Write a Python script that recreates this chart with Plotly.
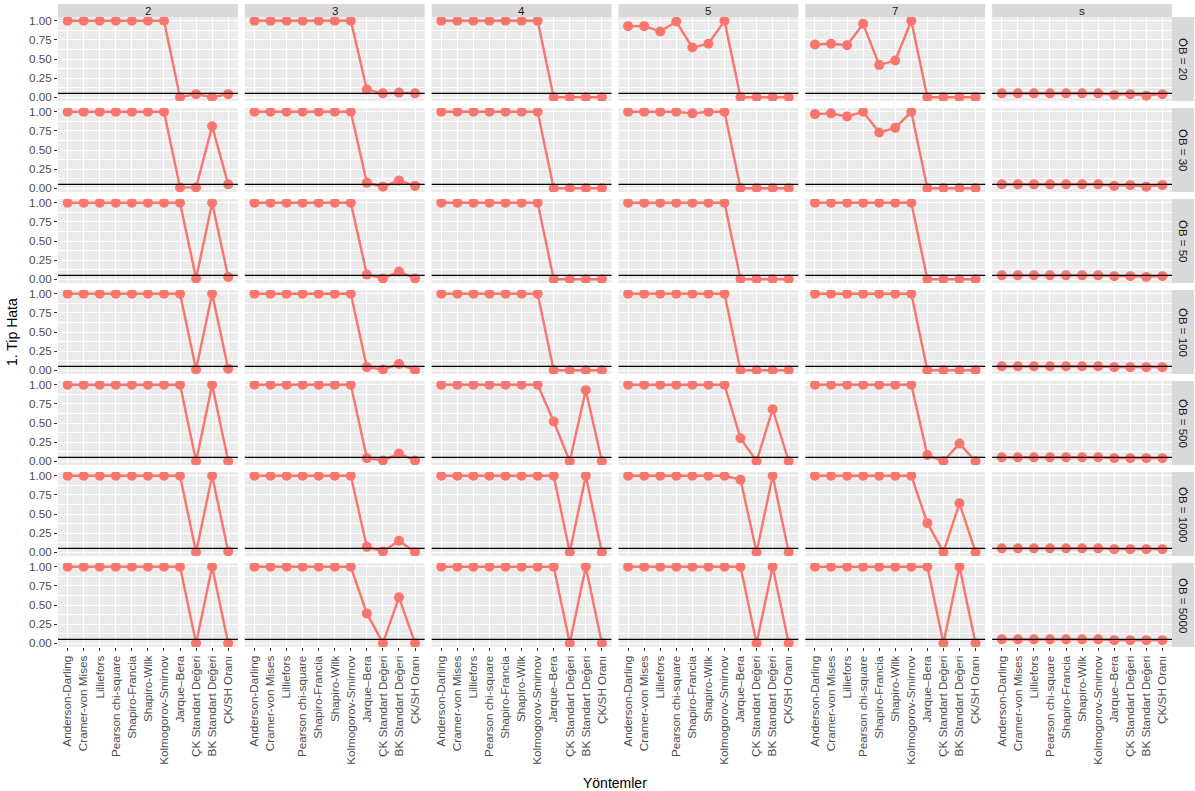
import plotly.graph_objects as go
from plotly.subplots import make_subplots

methods = ["Anderson-Darling", "Cramer-von Mises", "Lilliefors", "Pearson chi-square",
           "Shapiro-Francia", "Shapiro-Wilk", "Kolmogorov-Smirnov", "Jarque–Bera",
           "ÇK Standart Değeri", "BK Standart Değeri", "ÇK/SH Oranı"]
groups = ["2", "3", "4", "5", "7", "s"]
sample_sizes = ["ÖB = 20", "ÖB = 30", "ÖB = 50", "ÖB = 100", "ÖB = 500", "ÖB = 1000", "ÖB = 5000"]
y_ticks = [0.0, 0.25, 0.5, 0.75, 1.0]
y_ticktext = ["0.00", "0.25", "0.50", "0.75", "1.00"]
alpha_level = 0.05

# rows: ÖB = 20, 30, 50, 100, 500, 1000, 5000
group_2 = [
    [1.00, 1.00, 1.00, 1.00, 1.00, 1.00, 1.00, 0.00, 0.04, 0.00, 0.04],
    [1.00, 1.00, 1.00, 1.00, 1.00, 1.00, 1.00, 0.01, 0.01, 0.81, 0.05],
    [1.00, 1.00, 1.00, 1.00, 1.00, 1.00, 1.00, 1.00, 0.01, 1.00, 0.03],
    [1.00, 1.00, 1.00, 1.00, 1.00, 1.00, 1.00, 1.00, 0.01, 1.00, 0.02],
    [1.00, 1.00, 1.00, 1.00, 1.00, 1.00, 1.00, 1.00, 0.00, 1.00, 0.00],
    [1.00, 1.00, 1.00, 1.00, 1.00, 1.00, 1.00, 1.00, 0.00, 1.00, 0.01],
    [1.00, 1.00, 1.00, 1.00, 1.00, 1.00, 1.00, 1.00, 0.00, 1.00, 0.00],
]
group_3 = [
    [1.00, 1.00, 1.00, 1.00, 1.00, 1.00, 1.00, 0.10, 0.05, 0.06, 0.05],
    [1.00, 1.00, 1.00, 1.00, 1.00, 1.00, 1.00, 0.07, 0.02, 0.10, 0.03],
    [1.00, 1.00, 1.00, 1.00, 1.00, 1.00, 1.00, 0.06, 0.01, 0.10, 0.01],
    [1.00, 1.00, 1.00, 1.00, 1.00, 1.00, 1.00, 0.04, 0.01, 0.08, 0.00],
    [1.00, 1.00, 1.00, 1.00, 1.00, 1.00, 1.00, 0.04, 0.01, 0.10, 0.01],
    [1.00, 1.00, 1.00, 1.00, 1.00, 1.00, 1.00, 0.07, 0.01, 0.15, 0.00],
    [1.00, 1.00, 1.00, 1.00, 1.00, 1.00, 1.00, 0.39, 0.00, 0.60, 0.00],
]
group_4 = [
    [1.00, 1.00, 1.00, 1.00, 1.00, 1.00, 1.00, 0.00, 0.00, 0.00, 0.00],
    [1.00, 1.00, 1.00, 1.00, 1.00, 1.00, 1.00, 0.00, 0.00, 0.00, 0.00],
    [1.00, 1.00, 1.00, 1.00, 1.00, 1.00, 1.00, 0.00, 0.00, 0.00, 0.00],
    [1.00, 1.00, 1.00, 1.00, 1.00, 1.00, 1.00, 0.00, 0.00, 0.00, 0.00],
    [1.00, 1.00, 1.00, 1.00, 1.00, 1.00, 1.00, 0.52, 0.00, 0.93, 0.00],
    [1.00, 1.00, 1.00, 1.00, 1.00, 1.00, 1.00, 1.00, 0.00, 1.00, 0.00],
    [1.00, 1.00, 1.00, 1.00, 1.00, 1.00, 1.00, 1.00, 0.00, 1.00, 0.00],
]
group_5 = [
    [0.93, 0.93, 0.86, 0.99, 0.65, 0.70, 1.00, 0.00, 0.00, 0.00, 0.00],
    [1.00, 1.00, 1.00, 1.00, 0.98, 1.00, 1.00, 0.00, 0.00, 0.00, 0.00],
    [1.00, 1.00, 1.00, 1.00, 1.00, 1.00, 1.00, 0.00, 0.00, 0.00, 0.00],
    [1.00, 1.00, 1.00, 1.00, 1.00, 1.00, 1.00, 0.00, 0.00, 0.00, 0.00],
    [1.00, 1.00, 1.00, 1.00, 1.00, 1.00, 1.00, 0.30, 0.00, 0.68, 0.00],
    [1.00, 1.00, 1.00, 1.00, 1.00, 1.00, 1.00, 0.95, 0.00, 1.00, 0.00],
    [1.00, 1.00, 1.00, 1.00, 1.00, 1.00, 1.00, 1.00, 0.00, 1.00, 0.00],
]
group_7 = [
    [0.69, 0.70, 0.68, 0.96, 0.42, 0.48, 1.00, 0.00, 0.00, 0.00, 0.00],
    [0.97, 0.98, 0.94, 1.00, 0.73, 0.79, 1.00, 0.00, 0.00, 0.00, 0.00],
    [1.00, 1.00, 1.00, 1.00, 1.00, 1.00, 1.00, 0.00, 0.00, 0.00, 0.00],
    [1.00, 1.00, 1.00, 1.00, 1.00, 1.00, 1.00, 0.00, 0.00, 0.00, 0.00],
    [1.00, 1.00, 1.00, 1.00, 1.00, 1.00, 1.00, 0.08, 0.00, 0.23, 0.00],
    [1.00, 1.00, 1.00, 1.00, 1.00, 1.00, 1.00, 0.38, 0.00, 0.64, 0.00],
    [1.00, 1.00, 1.00, 1.00, 1.00, 1.00, 1.00, 1.00, 0.00, 1.00, 0.00],
]
group_s = [
    [0.05, 0.05, 0.05, 0.05, 0.05, 0.05, 0.05, 0.03, 0.04, 0.02, 0.04],
    [0.05, 0.05, 0.05, 0.05, 0.05, 0.05, 0.05, 0.03, 0.04, 0.02, 0.04],
    [0.05, 0.05, 0.05, 0.05, 0.05, 0.05, 0.05, 0.04, 0.04, 0.03, 0.04],
    [0.05, 0.05, 0.05, 0.05, 0.05, 0.05, 0.05, 0.04, 0.04, 0.04, 0.04],
    [0.05, 0.05, 0.05, 0.05, 0.05, 0.05, 0.05, 0.04, 0.04, 0.04, 0.04],
    [0.05, 0.05, 0.05, 0.05, 0.05, 0.05, 0.05, 0.04, 0.04, 0.04, 0.04],
    [0.05, 0.05, 0.05, 0.05, 0.05, 0.05, 0.05, 0.04, 0.04, 0.04, 0.04],
]
all_groups = [group_2, group_3, group_4, group_5, group_7, group_s]

W, H = 1195, 791
ML, MR, MT, MB = 58, 23, 17, 144
PW = W - ML - MR
PH = H - MT - MB
n_rows, n_cols = len(sample_sizes), len(groups)

fig = make_subplots(rows=n_rows, cols=n_cols,
                    horizontal_spacing=7 / PW, vertical_spacing=7 / PH)

LINE_COLOR = "#F8766D"
FONT = "Liberation Sans, Arial, sans-serif"
TICK_SIZE = 11.7

for c, grp in enumerate(all_groups, start=1):
    for r, vals in enumerate(grp, start=1):
        fig.add_trace(go.Scatter(x=methods, y=vals, mode="lines+markers",
                                 line=dict(color=LINE_COLOR, width=2.4),
                                 marker=dict(color=LINE_COLOR, size=10),
                                 showlegend=False, hoverinfo="x+y"),
                      row=r, col=c)
        fig.add_hline(y=alpha_level, line=dict(color="black", width=1.4), row=r, col=c)

fig.update_xaxes(type="category", range=[-0.6, len(methods) - 0.4],
                 showgrid=True, gridcolor="white", gridwidth=1.1,
                 zeroline=False, showline=False,
                 ticks="", showticklabels=False,
                 tickfont=dict(family=FONT, size=TICK_SIZE, color="#4D4D4D"),
                 tickangle=-90)
fig.update_xaxes(ticks="outside", ticklen=3, tickcolor="#333333", tickwidth=1,
                 showticklabels=True, row=n_rows)

fig.update_yaxes(range=[-0.05, 1.05], tickvals=y_ticks, ticktext=y_ticktext,
                 showgrid=True, gridcolor="white", gridwidth=1.1,
                 zeroline=False, showline=False, ticks="", showticklabels=False,
                 minor=dict(tick0=0.125, dtick=0.25, showgrid=True,
                            gridcolor="white", gridwidth=0.5),
                 tickfont=dict(family=FONT, size=TICK_SIZE, color="#4D4D4D"))
fig.update_yaxes(ticks="outside", ticklen=3, tickcolor="#333333", tickwidth=1,
                 showticklabels=True, col=1)

shapes = []
annotations = []
strip_h = 13 / PH
strip_w = 22 / PW
for c in range(1, n_cols + 1):
    ax = fig.layout["xaxis" if c == 1 else f"xaxis{c}"]
    d = ax.domain
    shapes.append(dict(type="rect", xref="paper", yref="paper",
                       x0=d[0], x1=d[1], y0=1.0, y1=1.0 + strip_h,
                       fillcolor="#D9D9D9", line=dict(width=0), layer="below"))
    annotations.append(dict(text=groups[c - 1], xref="paper", yref="paper",
                            x=(d[0] + d[1]) / 2, y=1.0 + strip_h / 2,
                            showarrow=False, xanchor="center", yanchor="middle",
                            font=dict(family=FONT, size=11.5, color="#1A1A1A")))
for r in range(1, n_rows + 1):
    idx = (r - 1) * n_cols + 1
    ax = fig.layout["yaxis" if idx == 1 else f"yaxis{idx}"]
    d = ax.domain
    shapes.append(dict(type="rect", xref="paper", yref="paper",
                       x0=1.0, x1=1.0 + strip_w, y0=d[0], y1=d[1],
                       fillcolor="#D9D9D9", line=dict(width=0), layer="below"))
    annotations.append(dict(text=sample_sizes[r - 1], xref="paper", yref="paper",
                            x=1.0 + strip_w / 2, y=(d[0] + d[1]) / 2,
                            showarrow=False, xanchor="center", yanchor="middle",
                            textangle=90,
                            font=dict(family=FONT, size=11.5, color="#1A1A1A")))

annotations.append(dict(text="1. Tip Hata", xref="paper", yref="paper",
                        x=(12 - ML) / PW, y=0.5, textangle=-90, showarrow=False,
                        xanchor="center", yanchor="middle",
                        font=dict(family=FONT, size=14, color="black")))
annotations.append(dict(text="Yöntemler", xref="paper", yref="paper",
                        x=0.5, y=-(783 - (MT + PH)) / PH, showarrow=False,
                        xanchor="center", yanchor="middle",
                        font=dict(family=FONT, size=14, color="black")))

fig.update_layout(width=W, height=H, autosize=False,
                  margin=dict(l=ML, r=MR, t=MT, b=MB, pad=0),
                  paper_bgcolor="white", plot_bgcolor="#EBEBEB",
                  font=dict(family=FONT),
                  shapes=list(fig.layout.shapes) + shapes,
                  annotations=list(fig.layout.annotations) + annotations)

fig.write_html("out.html", config={"displayModeBar": False},
               post_script="document.body.style.margin='0';document.body.style.overflow='hidden';")
